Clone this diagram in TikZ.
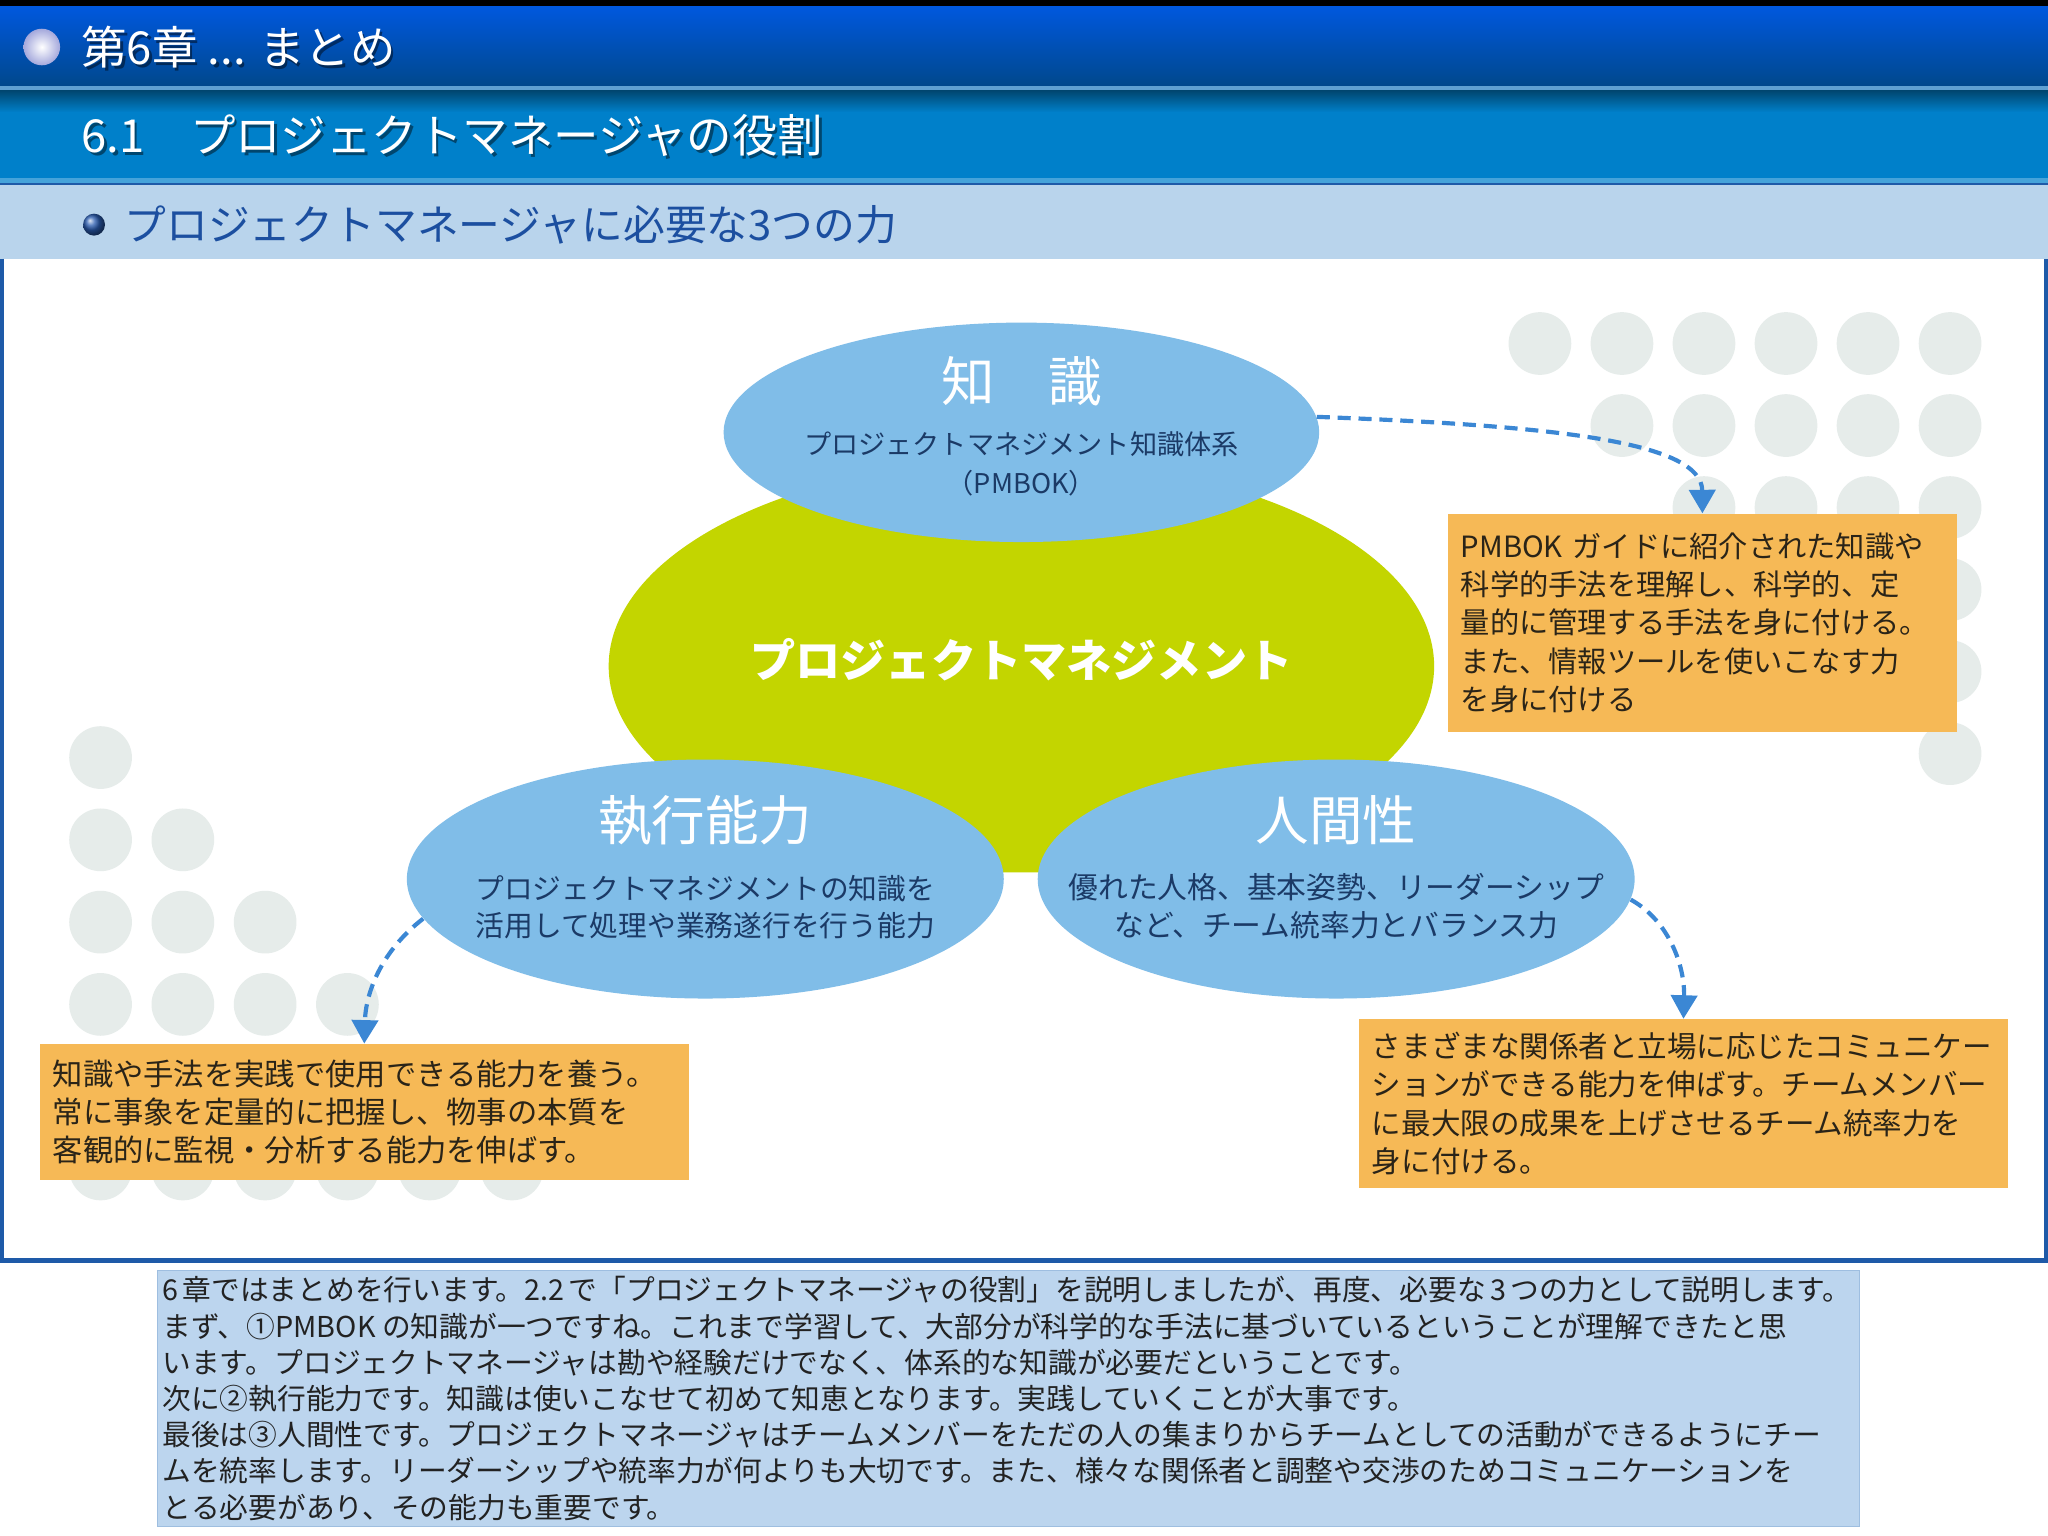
\documentclass[tikz,border=0pt]{standalone}
\usepackage{fontspec}
\setmainfont{Noto Sans CJK JP}
\usetikzlibrary{shapes.geometric,arrows.meta}
\definecolor{hdrA}{HTML}{0058DE}
\definecolor{hdrB}{HTML}{00488C}
\definecolor{hdrLine}{HTML}{5FA0D2}
\definecolor{bandTop}{HTML}{00456E}
\definecolor{bandTwo}{HTML}{0080CA}
\definecolor{bandTwoLine}{HTML}{45A3DA}
\definecolor{bandThree}{HTML}{B9D4EC}
\definecolor{subttl}{HTML}{1C4FA0}
\definecolor{frameblue}{HTML}{1E5AA8}
\definecolor{ellblue}{HTML}{80BDE8}
\definecolor{ellgreen}{HTML}{C3D500}
\definecolor{navy}{HTML}{1B3A66}
\definecolor{boxorange}{HTML}{F6B956}
\definecolor{boxtext}{HTML}{2A2418}
\definecolor{dotc}{HTML}{E6ECEA}
\definecolor{arrowc}{HTML}{3B87D4}
\definecolor{notefill}{HTML}{BCD5EE}
\definecolor{noteline}{HTML}{9EBEE0}
\definecolor{notetext}{HTML}{222222}
\definecolor{bulletA}{HTML}{A4A8DC}
\definecolor{bulletB}{HTML}{2A5CB0}
\newcommand{\myfs}[2]{\fontsize{#1}{#2}\selectfont}
\tikzset{
  ell/.style={ellipse, fill=ellblue, inner sep=0pt},
  ttl/.style={text=white, font=\myfs{20.5}{24}},
  subtxt/.style={text=navy, align=center},
  obox/.style={rectangle, fill=boxorange, inner xsep=5pt, inner ysep=0pt, align=left, text=boxtext, anchor=north west},
  conn/.style={draw=arrowc, line width=1.6pt, dash pattern=on 5pt off 3pt, -{Triangle[width=10pt,length=9pt]}},
  hdr/.style={anchor=west, inner sep=0pt, text=white, font=\myfs{17.4}{20}},
  hdrshadow/.style={anchor=west, inner sep=0pt, text=black, opacity=0.45, font=\myfs{17.4}{20}},
}
\begin{document}
\begin{tikzpicture}[x=0.5pt,y=-0.5pt]
\useasboundingbox (0,0) rectangle (1568,1176);
\fill[white] (0,0) rectangle (1568,1176);
% header bands
\fill[black] (0,0) rectangle (1568,5);
\shade[top color=hdrA, bottom color=hdrB] (0,5) rectangle (1568,66);
\fill[hdrLine] (0,66) rectangle (1568,69);
\shade[top color=bandTop, bottom color=bandTwo] (0,69) rectangle (1568,86);
\fill[bandTwo] (0,86) rectangle (1568,136);
\fill[bandTwoLine] (0,136) rectangle (1568,140);
\fill[frameblue] (0,140) rectangle (1568,142);
\fill[bandThree] (0,142) rectangle (1568,198);
% bullets
\shade[inner color=white, outer color=bulletA] (32,36) circle[radius=7pt];
\shade[ball color=bulletB] (72,172) circle[radius=4.2pt];
% header texts
\node[hdrshadow] (h1s) at (64,38) {第6章 ... まとめ};
\node[hdr] (h1) at (62,36) {第6章 ... まとめ};
\node[hdrshadow] (h2s) at (64,106) {6.1　プロジェクトマネージャの役割};
\node[hdr] (h2) at (62,104) {6.1　プロジェクトマネージャの役割};
\node[anchor=west, inner sep=0pt, text=subttl, font=\myfs{16}{19}] (h3) at (95,172) {プロジェクトマネージャに必要な3つの力};
% frame
\draw[frameblue, line width=2pt] (1,198) -- (1,965) -- (1567,965) -- (1567,198);
% background dots
\foreach \r in {0,...,5}{\foreach \c in {\r,...,5}{\fill[dotc] ({1179+62.8*\c},{263+62.8*\r}) circle[radius=12pt];}}
\foreach \r in {0,...,5}{\foreach \c in {0,...,\r}{\fill[dotc] ({77+63*\c},{580+63*\r}) circle[radius=12pt];}}
% ellipses
\node[ellipse, fill=ellgreen, inner sep=0pt, minimum width=316pt, minimum height=158pt] (pm) at (782,510) {};
\node[ell, minimum width=228pt, minimum height=84pt] (know) at (782,331) {};
\node[ell, minimum width=228.5pt, minimum height=91.5pt] (exec) at (540,673) {};
\node[ell, minimum width=228.5pt, minimum height=91.5pt] (human) at (1023,673) {};
\node[text=white, font=\myfs{17.3}{20}\bfseries] (pmT) at (782,505) {プロジェクトマネジメント};
\node[ttl] (knowT) at (782,292) {知　識};
\node[subtxt, font=\myfs{10.4}{15}] (knowS) at (782,355) {プロジェクトマネジメント知識体系\\（PMBOK）};
\node[ttl] (execT) at (540,628) {執行能力};
\node[subtxt, font=\myfs{11}{14.5}] (execS) at (540,694.5) {プロジェクトマネジメントの知識を\\活用して処理や業務遂行を行う能力};
\node[ttl] (humT) at (1023,628) {人間性};
\node[subtxt, font=\myfs{11.4}{14.5}] (humS) at (1023,693.5) {優れた人格、基本姿勢、リーダーシップ\\など、チーム統率力とバランス力};
% orange boxes
\node[obox, minimum width=195pt, minimum height=83.5pt, text width=185pt, font=\myfs{11.2}{14.6}] (box1) at (1108,393)
 {PMBOK~ガイドに紹介された知識や\\科学的手法を理解し、科学的、定\\量的に管理する手法を身に付ける。\\また、情報ツールを使いこなす力\\を身に付ける};
\node[obox, minimum width=248.5pt, minimum height=52pt, text width=238.5pt, font=\myfs{11.6}{14.5}] (box2) at (30,799)
 {知識や手法を実践で使用できる能力を養う。\\常に事象を定量的に把握し、物事の本質を\\客観的に監視・分析する能力を伸ばす。};
\node[obox, minimum width=248.5pt, minimum height=64.5pt, text width=238.5pt, font=\myfs{11.3}{14.7}] (box3) at (1040,780)
 {さまざまな関係者と立場に応じたコミュニケー\\ションができる能力を伸ばす。チームメンバー\\に最大限の成果を上げさせるチーム統率力を\\身に付ける。};
% connectors
\draw[conn] (know.3) .. controls (1190,326) and (1303,338) .. (box1.north);
\draw[conn] (exec.188) .. controls (292,728) and (280,760) .. (box2.north);
\draw[conn] (human.356) .. controls (1278,705) and (1290,740) .. (box3.north);
% notes
\node[draw=noteline, fill=notefill, line width=0.6pt, minimum width=651.5pt, minimum height=98pt, anchor=north west, inner sep=0pt] (notebox) at (120,972) {};
\node[anchor=north west, inner sep=0pt, text=notetext, font=\myfs{11}{13.85}] (notes) at (124,977)
 {\vbox{\hbox to 644pt{6 章ではまとめを行います。2.2 で「プロジェクトマネージャの役割」を説明しましたが、再度、必要な 3 つの力として説明します。}
 \hbox{まず、①PMBOK の知識が一つですね。これまで学習して、大部分が科学的な手法に基づいているということが理解できたと思}
 \hbox{います。プロジェクトマネージャは勘や経験だけでなく、体系的な知識が必要だということです。}
 \hbox{次に②執行能力です。知識は使いこなせて初めて知恵となります。実践していくことが大事です。}
 \hbox{最後は③人間性です。プロジェクトマネージャはチームメンバーをただの人の集まりからチームとしての活動ができるようにチー}
 \hbox{ムを統率します。リーダーシップや統率力が何よりも大切です。また、様々な関係者と調整や交渉のためコミュニケーションを}
 \hbox{とる必要があり、その能力も重要です。}}};
\end{tikzpicture}
\end{document}
